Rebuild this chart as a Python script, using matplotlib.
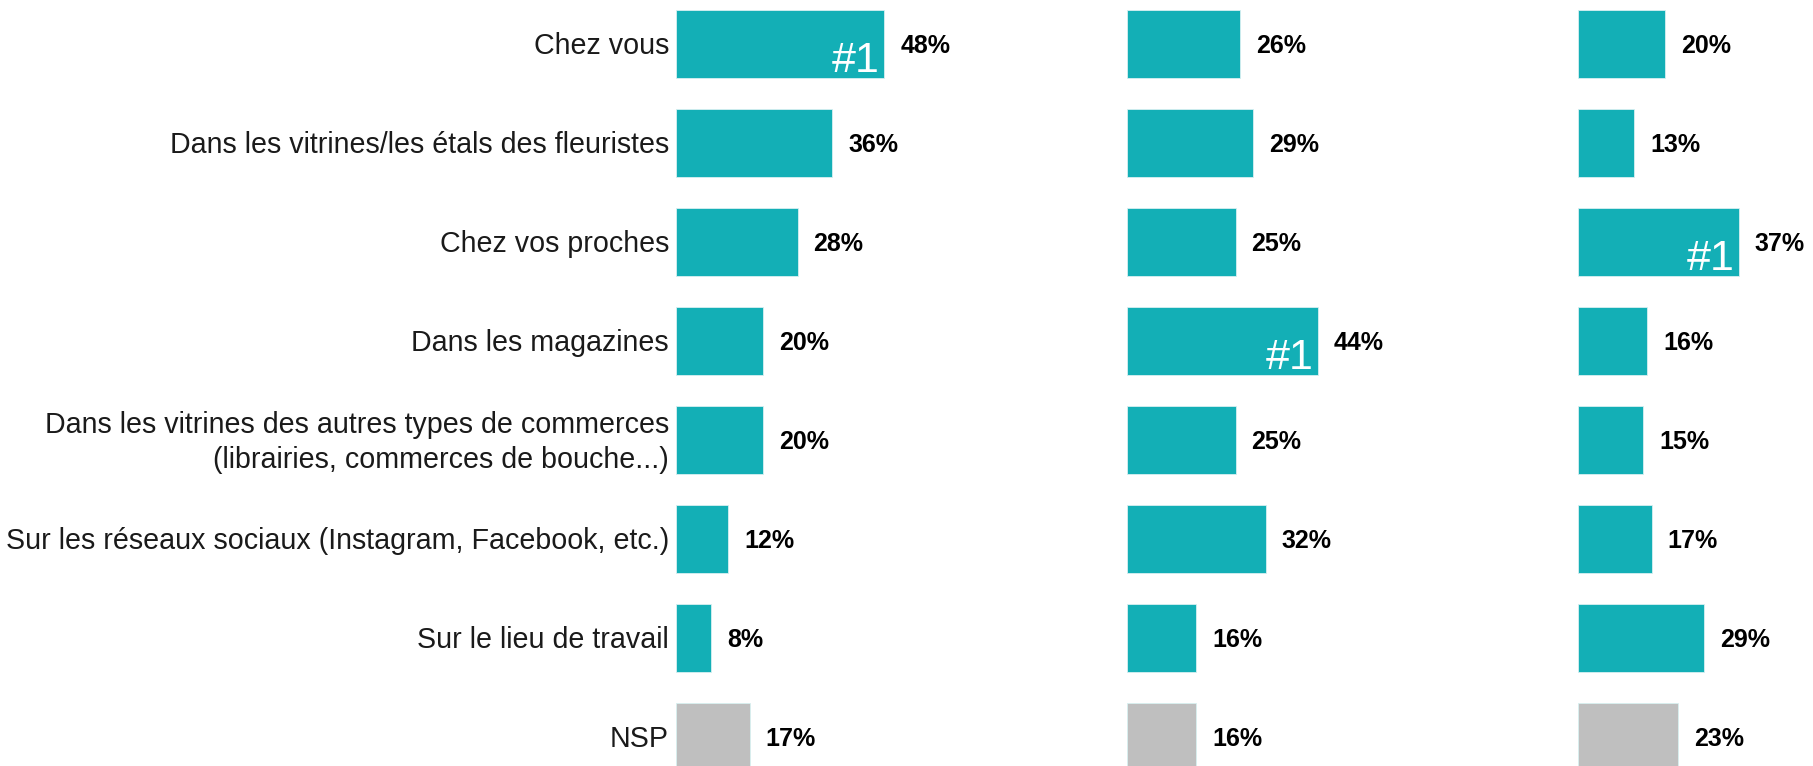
import numpy as np
import matplotlib
matplotlib.use("Agg")
import matplotlib.pyplot as plt

# données
categories = [
    "Chez vous",
    "Dans les vitrines/les étals des fleuristes",
    "Chez vos proches",
    "Dans les magazines",
    "Dans les vitrines des autres types de commerces\n(librairies, commerces de bouche...)",
    "Sur les réseaux sociaux (Instagram, Facebook, etc.)",
    "Sur le lieu de travail",
    "NSP",
]
serie1 = [48, 36, 28, 20, 20, 12, 8, 17]
serie2 = [26, 29, 25, 44, 25, 32, 16, 16]
serie3 = [20, 13, 37, 16, 15, 17, 29, 23]
series = [serie1, serie2, serie3]

TEAL = "#13AFB6"
GREY = "#BFBFBF"
FONT = ["Liberation Sans", "DejaVu Sans"]

W, H = 1813, 766
fig = plt.figure(figsize=(W / 100, H / 100), dpi=100)

px_per_pct = 4.34          # pixels par point de %
panel_left = [676, 1127, 1578]
row0, row_step = 44, 99    # centre de la 1re barre et pas vertical (pixels)
y_top = -row0 / row_step
y_bot = (H - row0) / row_step

n = len(categories)
y = np.arange(n)
colors = [TEAL] * (n - 1) + [GREY]

for k, (vals, left) in enumerate(zip(series, panel_left)):
    width_px = min(451, W - left)
    ax = fig.add_axes([left / W, 0, width_px / W, 1])
    ax.barh(y, vals, height=0.68, color=colors, edgecolor="#d8f0f1", linewidth=0.6)
    ax.set_xlim(0, width_px / px_per_pct)
    ax.set_ylim(y_bot, y_top)
    ax.axis("off")

    for i, v in enumerate(vals):
        ax.text(v + 3.7, i + 0.02, f"{v}%", ha="left", va="center",
                fontsize=18, fontweight="bold", family=FONT, color="black")

    # #1 dans la barre la plus longue (hors NSP)
    top = int(np.argmax(vals[:-1]))
    ax.text(vals[top] - 1.0, top + 0.285, "#1", ha="right", va="baseline",
            fontsize=31, family=FONT, color="white")

    if k == 0:
        for i, lab in enumerate(categories):
            ax.text(-1.6, i + 0.025, lab, ha="right", va="center", fontsize=20.6,
                    family=FONT, color="#1a1a1a", linespacing=1.36, clip_on=False)

fig.savefig("out.png", dpi=100)
